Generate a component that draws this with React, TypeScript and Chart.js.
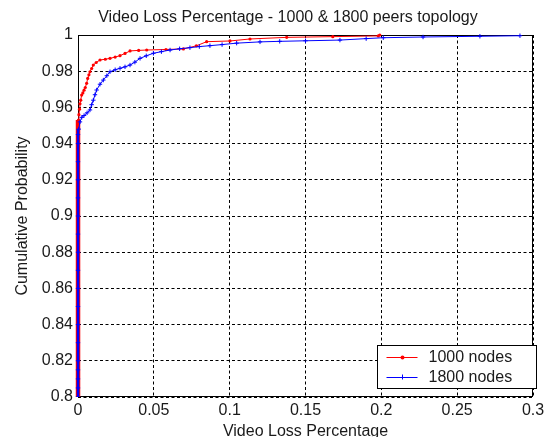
import React, { useEffect, useRef } from "react";
import { Chart, registerables } from "chart.js";

Chart.register(...registerables);

const TITLE = "Video Loss Percentage - 1000 & 1800 peers topology";
const X_LABEL = "Video Loss Percentage";
const Y_LABEL = "Cumulative Probability";
const SERIES_NAMES = ["1000 nodes", "1800 nodes"];
const X_TICKS = [0, 0.05, 0.1, 0.15, 0.2, 0.25, 0.3];
const Y_TICKS = [0.8, 0.82, 0.84, 0.86, 0.88, 0.9, 0.92, 0.94, 0.96, 0.98, 1];

const nodes1000X = [
  0, 0, 0, 0, 0, 0, 0, 0, 0, 0, 0, 0, 0, 0, 0, 0, 0, 0, 0, 0, 0, 0,
  0.0003, 0.0006, 0.001, 0.0013, 0.0018, 0.0024, 0.0032, 0.004, 0.0048, 0.0057,
  0.0064, 0.0072, 0.0079, 0.009, 0.0101, 0.012, 0.0145, 0.018, 0.0211, 0.0245,
  0.0277, 0.031, 0.0343, 0.04, 0.0453, 0.058, 0.0695, 0.078, 0.0848, 0.1002,
  0.1134, 0.1376, 0.168, 0.198, 0.199,
];
const nodes1000Y = [
  0.78, 0.79, 0.8, 0.805, 0.81, 0.815, 0.82, 0.83, 0.84, 0.85, 0.86, 0.87, 0.88, 0.89, 0.9, 0.91, 0.92, 0.93, 0.935, 0.94, 0.945, 0.95,
  0.953, 0.956, 0.959, 0.962, 0.964, 0.9668, 0.968, 0.9695, 0.971, 0.9733,
  0.976, 0.978, 0.9797, 0.9815, 0.9834, 0.9848, 0.9862, 0.9866, 0.9871, 0.9878,
  0.9886, 0.9898, 0.9912, 0.9915, 0.9917, 0.992, 0.9923, 0.994, 0.9963, 0.9967,
  0.9978, 0.9987, 0.9991, 0.9995, 1,
];

const nodes1800X = [
  0, 0, 0, 0, 0, 0, 0, 0, 0, 0, 0, 0, 0, 0, 0, 0, 0, 0, 0, 0,
  0.0005, 0.0013, 0.0025, 0.004, 0.006, 0.0079, 0.009, 0.0101, 0.0112, 0.0123,
  0.0145, 0.0167, 0.019, 0.0211, 0.0245, 0.0277, 0.031, 0.0343, 0.0375, 0.0409,
  0.045, 0.0497, 0.055, 0.0607, 0.067, 0.0738, 0.08, 0.087, 0.095, 0.1046,
  0.12, 0.133, 0.15, 0.1727, 0.19, 0.2013, 0.2275, 0.265, 0.2914,
];
const nodes1800Y = [
  0.78, 0.79, 0.8, 0.805, 0.81, 0.815, 0.82, 0.83, 0.84, 0.85, 0.86, 0.87, 0.88, 0.89, 0.9, 0.91, 0.92, 0.93, 0.94, 0.945,
  0.948, 0.952, 0.9545, 0.9555, 0.957, 0.9586, 0.9615, 0.964, 0.967, 0.9696,
  0.9728, 0.9751, 0.9775, 0.9797, 0.9808, 0.9816, 0.9824, 0.9834, 0.985, 0.9871,
  0.9885, 0.9899, 0.9908, 0.9917, 0.9924, 0.993, 0.9936, 0.9941, 0.9947, 0.9955,
  0.9962, 0.9965, 0.9968, 0.9972, 0.998, 0.9985, 0.9989, 0.9993, 0.9996,
];

const RED = "#ff0000";
const BLUE = "#0000ff";
const TEXT = "#1a1a1a";
const FONT = "'Liberation Sans', Arial, Helvetica, sans-serif";

const fmt = (v: number | string) => String(Number(Number(v).toFixed(2)));

export default function App() {
  const ref = useRef<HTMLCanvasElement>(null);

  useEffect(() => {
    const canvas = ref.current;
    if (!canvas) return;

    const decor = {
      id: "decor",
      beforeDatasetsDraw(chart: any) {
        const { ctx, chartArea: a } = chart;
        ctx.save();
        ctx.strokeStyle = "#000";
        ctx.lineWidth = 1;
        const l = Math.round(a.left) + 0.5;
        const t = Math.round(a.top) + 0.5;
        const r = Math.round(a.right) - 0.5;
        const b = Math.round(a.bottom) - 0.5;
        ctx.strokeRect(l, t, r - l, b - t);
        ctx.restore();
      },
      afterDraw(chart: any) {
        const { ctx, chartArea: a } = chart;
        ctx.save();
        // title
        ctx.fillStyle = TEXT;
        ctx.font = `16px ${FONT}`;
        ctx.textAlign = "center";
        ctx.textBaseline = "middle";
        ctx.fillText(TITLE, 288, 18);
        // legend
        const bl = Math.round(a.right - 156) + 0.5;
        const bt = Math.round(a.bottom - 52) + 0.5;
        const bw = 159;
        const bh = 43;
        ctx.fillStyle = "#fff";
        ctx.fillRect(bl, bt, bw, bh);
        ctx.strokeStyle = "#000";
        ctx.lineWidth = 1;
        ctx.strokeRect(bl, bt, bw, bh);
        const rows = [
          { y: bt + 11.5, color: RED, name: SERIES_NAMES[0], marker: "dot" },
          { y: bt + 31, color: BLUE, name: SERIES_NAMES[1], marker: "plus" },
        ];
        rows.forEach((row) => {
          ctx.strokeStyle = row.color;
          ctx.lineWidth = 1;
          ctx.beginPath();
          ctx.moveTo(bl + 9, Math.round(row.y) + 0.5);
          ctx.lineTo(bl + 40, Math.round(row.y) + 0.5);
          ctx.stroke();
          const mx = bl + 25;
          if (row.marker === "dot") {
            ctx.fillStyle = row.color;
            ctx.beginPath();
            ctx.arc(mx, Math.round(row.y) + 0.5, 2, 0, Math.PI * 2);
            ctx.fill();
          } else {
            ctx.beginPath();
            ctx.moveTo(mx, row.y - 2);
            ctx.lineTo(mx, row.y + 3);
            ctx.moveTo(mx - 2.5, Math.round(row.y) + 0.5);
            ctx.lineTo(mx + 2.5, Math.round(row.y) + 0.5);
            ctx.stroke();
          }
          ctx.fillStyle = TEXT;
          ctx.font = `16px ${FONT}`;
          ctx.textAlign = "left";
          ctx.textBaseline = "middle";
          ctx.fillText(row.name, bl + 51, row.y + 1);
        });
        ctx.restore();
      },
    };

    const zeroSegWidth = (w: number) => (c: any) =>
      c.p0.parsed.x === 0 && c.p1.parsed.x <= 0.0005 ? w : 1;

    const chart = new Chart(canvas, {
      type: "line",
      data: {
        datasets: [
          {
            label: SERIES_NAMES[0],
            data: nodes1000X.map((x, i) => ({ x, y: nodes1000Y[i] })),
            borderColor: RED,
            backgroundColor: RED,
            borderWidth: 1,
            segment: { borderWidth: zeroSegWidth(4.5) },
            pointStyle: "circle",
            pointRadius: 1.6,
            pointBorderWidth: 0,
            fill: false,
            tension: 0,
            order: 1,
            clip: { left: 4, top: 3, right: 0, bottom: 0 },
          },
          {
            label: SERIES_NAMES[1],
            data: nodes1800X.map((x, i) => ({ x, y: nodes1800Y[i] })),
            borderColor: BLUE,
            backgroundColor: BLUE,
            borderWidth: 1,
            segment: { borderWidth: zeroSegWidth(2.5) },
            pointStyle: "cross",
            pointRadius: 2.2,
            pointBorderWidth: 1,
            fill: false,
            tension: 0,
            order: 0,
            clip: { left: 4, top: 3, right: 0, bottom: 0 },
          },
        ],
      },
      options: {
        animation: false,
        responsive: false,
        devicePixelRatio: 1,
        layout: { padding: { left: 0, right: 18, top: 35, bottom: 0 } },
        plugins: {
          legend: { display: false },
          tooltip: { enabled: false },
          title: { display: false },
        },
        scales: {
          x: {
            type: "linear",
            min: 0,
            max: 0.3,
            afterFit: (s: any) => {
              s.height = 48;
            },
            afterBuildTicks: (s: any) => {
              s.ticks = X_TICKS.map((v) => ({ value: v }));
            },
            grid: { color: "#000", lineWidth: 1, drawTicks: false },
            border: { display: false, dash: [3, 2.5] },
            ticks: {
              padding: 4,
              color: TEXT,
              font: { family: FONT, size: 16 },
              maxRotation: 0,
              callback: (v: any) => fmt(v),
            },
            title: {
              display: true,
              text: X_LABEL,
              color: TEXT,
              font: { family: FONT, size: 16 },
              padding: { top: 0, bottom: 4 },
            },
          },
          y: {
            type: "linear",
            min: 0.8,
            max: 1,
            afterFit: (s: any) => {
              s.width = 78;
            },
            afterBuildTicks: (s: any) => {
              s.ticks = Y_TICKS.map((v) => ({ value: v }));
            },
            grid: { color: "#000", lineWidth: 1, drawTicks: false },
            border: { display: false, dash: [3, 2.5] },
            ticks: {
              padding: 5,
              color: TEXT,
              font: { family: FONT, size: 16 },
              callback: (v: any) => fmt(v),
            },
            title: {
              display: true,
              text: Y_LABEL,
              color: TEXT,
              font: { family: FONT, size: 16 },
              padding: { top: 13, bottom: 0 },
            },
          },
        },
      },
      plugins: [decor],
    } as any);

    return () => chart.destroy();
  }, []);

  return (
    <div
      style={{
        position: "fixed",
        left: 0,
        top: 0,
        width: 551,
        height: 437,
        overflow: "hidden",
        background: "#fff",
      }}
    >
      <canvas ref={ref} width={551} height={445} style={{ display: "block" }} />
    </div>
  );
}
